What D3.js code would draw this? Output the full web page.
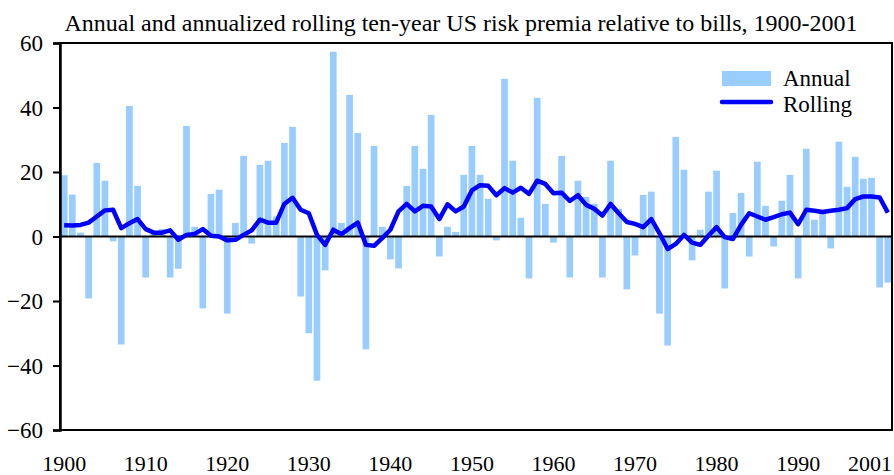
<!DOCTYPE html>
<html>
<head>
<meta charset="utf-8">
<script src="https://cdn.jsdelivr.net/npm/d3@7"></script>
<style>
  body { margin: 0; background: #fff; }
  svg text { font-family: "Liberation Serif", "Times New Roman", serif !important; fill: #000; }
</style>
</head>
<body>
<div id="viz"></div>
<script>
var years = d3.range(1900, 2002);

// annual premia, %
var annual = [
  19, 13, 1.2, -19.2, 22.8, 17.3, -1.5, -33.5, 40.5, 15.7,
  -12.7, 0.8, 2.3, -12.7, -10, 34.3, 3, -22.3, 13.2, 14.5,
  -23.9, 4.2, 25, -2.2, 22.2, 23.5, 6.2, 29, 34, -18.6,
  -30, -44.7, -10.5, 57.3, 4.2, 43.9, 32.1, -35, 28.1, 3,
  -7.1, -9.9, 15.7, 28.1, 21, 37.7, -6.2, 3, 1.4, 19.1,
  28.1, 19.1, 11.7, -1.2, 48.9, 23.5, 5.8, -13, 43, 10.1,
  -1.9, 25, -12.7, 17.3, 12.3, 10.1, -12.7, 23.5, 8.6, -16.4,
  -5.9, 12.9, 13.9, -23.9, -33.8, 30.9, 20.7, -7.4, 2.1, 13.9,
  20.4, -16.1, 7.3, 13.5, -6.2, 23.2, 9.5, -3.1, 11.1, 19.1,
  -13, 27.2, 5.2, 7.3, -3.7, 29.4, 15.4, 24.7, 17.9, 18.2,
  -15.8, -14.3
];

// annualized rolling ten-year premia, %
var rolling = [
  3.5, 3.4, 3.6, 4.3, 6.2, 8.1, 8.3, 2.6, 4.1, 5.4,
  2.3, 1.2, 1.2, 1.9, -1, 0.5, 0.8, 2.3, 0.2, 0,
  -1.2, -1, 0.5, 1.9, 5.2, 4.3, 4.3, 10.1, 12, 8.3,
  7.2, 0.5, -2.6, 2.1, 0.7, 2.6, 4.3, -2.6, -2.9, -0.5,
  2.1, 7.8, 10.1, 7.8, 9.5, 9.3, 5.4, 10, 7.8, 9.3,
  14.3, 15.9, 15.7, 12.8, 15, 13.6, 15.1, 13.2, 17.3, 16.3,
  13.4, 13.6, 11, 12.8, 9.8, 8.6, 6.5, 10.1, 7.2, 4.5,
  3.9, 2.9, 5.4, 1, -3.9, -2.3, 0.5, -1.9, -2.6, 0.2,
  2.9, -0.2, -0.8, 3.6, 7.2, 6.2, 5.2, 6, 6.9, 7.4,
  3.8, 8.3, 8, 7.6, 8, 8.3, 8.8, 11.6, 12.4, 12.4,
  12.1, 7.4
];

var yTicks = [60, 40, 20, 0, -20, -40, -60];
var xTickYears = [1900, 1910, 1920, 1930, 1940, 1950, 1960, 1970, 1980, 1990, 2001];
var seriesNames = ["Annual", "Rolling"];
var title = "Annual and annualized rolling ten-year US risk premia relative to bills, 1900-2001";

var width = 894,
    height = 475,
    margin = { top: 43, right: 2, bottom: 45, left: 60 },
    fontFamily = "'Liberation Serif', 'Times New Roman', serif";

var barColor = "#99ccff",
    lineColor = "#0000ff";

var x = d3.scaleBand()
  .domain(years)
  .range([margin.left, width - margin.right])
  .paddingInner(0.18)
  .paddingOuter(0.1);

var y = d3.scaleLinear()
  .domain([-60, 60])
  .range([height - margin.bottom, margin.top]);

var svg = d3.select("#viz")
  .append("svg")
    .attr("width", width)
    .attr("height", height);

svg.append("text")
  .attr("x", 461)
  .attr("y", 31)
  .attr("text-anchor", "middle")
  .style("font-family", fontFamily)
  .style("font-size", "24px")
  .text(title);

// bars
svg.append("g")
  .selectAll("rect")
  .data(years)
  .enter()
  .append("rect")
    .attr("fill", barColor)
    .attr("x", function(d) { return x(d); })
    .attr("width", x.bandwidth())
    .attr("y", function(d, i) { return y(Math.max(0, annual[i])); })
    .attr("height", function(d, i) { return Math.abs(y(annual[i]) - y(0)); });

// zero line
svg.append("line")
  .attr("x1", margin.left).attr("x2", width - margin.right)
  .attr("y1", y(0)).attr("y2", y(0))
  .attr("stroke", "#000").attr("stroke-width", 2);

// rolling line
var line = d3.line()
  .x(function(d, i) { return x(years[i]) + x.bandwidth() / 2; })
  .y(function(d) { return y(d); });

svg.append("path")
  .datum(rolling)
  .attr("fill", "none")
  .attr("stroke", lineColor)
  .attr("stroke-width", 4.5)
  .attr("stroke-linejoin", "round")
  .attr("d", line);

// frame
svg.append("rect")
  .attr("x", margin.left)
  .attr("y", margin.top)
  .attr("width", width - margin.right - margin.left)
  .attr("height", height - margin.bottom - margin.top)
  .attr("fill", "none")
  .attr("stroke", "#000")
  .attr("stroke-width", 2);

// y axis
var yAxis = svg.append("g")
  .attr("transform", "translate(" + margin.left + ",0)")
  .call(d3.axisLeft(y).tickValues(yTicks).tickSize(7).tickPadding(10).tickFormat(d3.format("d")));
yAxis.attr("font-family", null).attr("font-size", null);
yAxis.select(".domain").attr("stroke-width", 2.5);
yAxis.selectAll(".tick line").attr("stroke-width", 2);
yAxis.selectAll("text")
  .attr("dy", "0.34em")
  .style("font-size", "23px")
  .style("font-family", fontFamily);

// x labels
svg.append("g")
  .selectAll("text")
  .data(xTickYears)
  .enter()
  .append("text")
    .attr("x", function(d, i) {
      return i === xTickYears.length - 1 ? width - margin.right : x(d) + x.bandwidth() / 2;
    })
    .attr("y", 471)
    .attr("text-anchor", function(d, i) { return i === xTickYears.length - 1 ? "end" : "middle"; })
    .style("font-family", fontFamily)
    .style("font-size", "22px")
    .text(function(d) { return d; });

// legend
var legend = svg.append("g").attr("transform", "translate(722,71)");
legend.append("rect")
  .attr("width", 49).attr("height", 15)
  .attr("fill", barColor);
legend.append("line")
  .attr("x1", 0).attr("x2", 49)
  .attr("y1", 31).attr("y2", 31)
  .attr("stroke", lineColor).attr("stroke-width", 4.5)
  .attr("stroke-linecap", "round");
legend.selectAll("text")
  .data(seriesNames)
  .enter()
  .append("text")
    .attr("x", 61)
    .attr("y", function(d, i) { return 15 + i * 26; })
    .style("font-family", fontFamily)
    .style("font-size", "23px")
    .text(function(d) { return d; });
</script>
</body>
</html>
